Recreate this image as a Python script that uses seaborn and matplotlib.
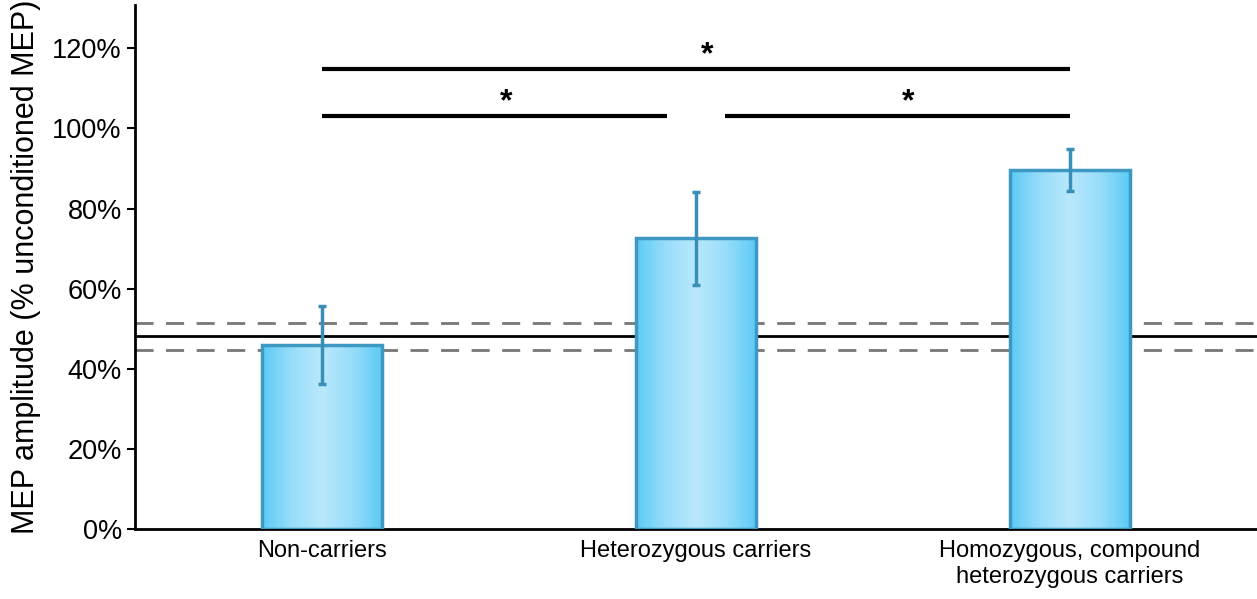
import numpy as np
import pandas as pd
import seaborn as sns
import matplotlib
matplotlib.use("Agg")
import matplotlib.pyplot as plt
from matplotlib.colors import LinearSegmentedColormap

categories = ["Non-carriers", "Heterozygous carriers", "Homozygous, compound\nheterozygous carriers"]
means = [45.9, 72.6, 89.6]
errors = [9.7, 11.6, 5.2]
baseline = 48.2
baseline_hi = 51.4
baseline_lo = 44.7
yticks = [0, 20, 40, 60, 80, 100, 120]
# significance brackets: (from idx, to idx, y level)
sig_pairs = [(0, 2, 114.8), (0, 1, 103.0), (1, 2, 103.0)]

sns.set_theme(style="white")
plt.rcParams['font.family'] = ['Liberation Sans', 'DejaVu Sans']
plt.rcParams['text.color'] = 'black'
plt.rcParams['axes.labelcolor'] = 'black'
plt.rcParams['xtick.color'] = 'black'
plt.rcParams['ytick.color'] = 'black'

fig = plt.figure(figsize=(12.57, 5.99), dpi=100)
ax = fig.add_axes([135/1257, 1 - 529/599, 1 - 135/1257, (529 - 5)/599])

df = pd.DataFrame({"cat": categories, "val": means})
edge = "#3d98c2"
sns.barplot(data=df, x="cat", y="val", ax=ax, width=0.32, color="#8fdcf8",
            edgecolor=edge, linewidth=2.5, zorder=3)

ax.set_xlim(-0.5, 2.5)
ax.set_ylim(0, 130.8)

# baseline lines (behind bars)
ax.axhline(baseline, color="black", lw=2, zorder=1)
ax.axhline(baseline_hi, color="#777777", lw=2, ls=(0, (6.5, 4.5)), zorder=1)
ax.axhline(baseline_lo, color="#777777", lw=2, ls=(0, (6.5, 4.5)), zorder=1)

# gradient fill
cmap = LinearSegmentedColormap.from_list("g", ["#5ccbf5", "#98ddfa", "#b9e8fc", "#98ddfa", "#5ccbf5"])
grad = np.linspace(0, 1, 256).reshape(1, -1)
for p in ax.patches:
    x0, y0 = p.get_x(), p.get_y()
    w, h = p.get_width(), p.get_height()
    im = ax.imshow(grad, extent=[x0, x0 + w, y0, y0 + h], aspect="auto",
                   cmap=cmap, zorder=2.5, interpolation="bicubic")
    im.set_clip_path(p)
    p.set_facecolor("none")

xs = np.arange(len(categories))
ax.errorbar(xs, means, yerr=errors, fmt="none", ecolor="#3a8fb8",
            elinewidth=2.5, capsize=3, capthick=2.5, zorder=4)

# significance lines
for i, j, y in sig_pairs:
    a, b = xs[i], xs[j]
    if j - i == 1:
        if i == 0:
            b = b - 0.077
        else:
            a = a + 0.077
    ax.plot([a, b], [y, y], color="black", lw=3, solid_capstyle="butt", zorder=5)
    ax.text((a + b) / 2 + 0.03, y - 0.3, "*", ha="center", va="bottom", fontsize=23,
            fontweight="bold", color="black")

ax.set_yticks(yticks)
ax.set_yticklabels([f"{t}%" for t in yticks], fontsize=19.5)
ax.tick_params(axis="y", which="both", left=True, length=6, width=1.5, direction="out")
ax.tick_params(axis="x", length=0, labelsize=17, pad=8)
ax.set_xlabel("")
ax.set_ylabel("MEP amplitude (% unconditioned MEP)", fontsize=22, labelpad=8)

for s in ["top", "right"]:
    ax.spines[s].set_visible(False)
for s in ["left", "bottom"]:
    ax.spines[s].set_color("black")
    ax.spines[s].set_linewidth(2)

fig.savefig("out.png", dpi=100)
